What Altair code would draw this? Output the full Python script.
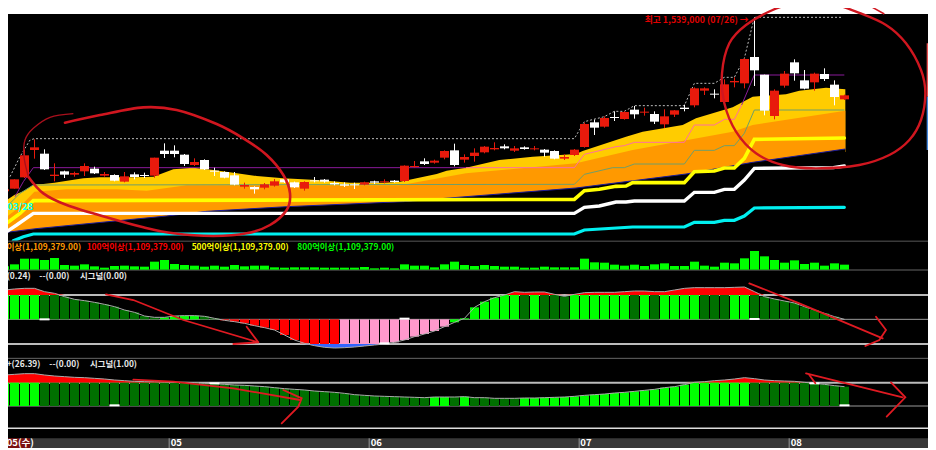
import altair as alt
import pandas as pd

X_DOM = [24, 2784]
Y_DOM = [1344, 24]
OFF = 705  # lower panels readings offset
XS = alt.Scale(domain=X_DOM, nice=False, zero=False)
YS = alt.Scale(domain=Y_DOM, nice=False, zero=False)
FONT = "Noto Sans CJK KR"
RED = "#e81a0c"
BRIGHT = "#00ff00"
DARK = "#007000"

def bx(i):
    return 43.5 + 30 * i

# candles: idx -1 .. 83  (high, top, bottom, low, colour flag)
c_high = [568,538,448,418,448,490,512,515,490,500,516,523,516,517,518,473,430,436,462,475,478,503,514,516,548,559,549,537,536,545,544,531,537,544,547,548,545,542,538,540,496,483,475,479,451,431,463,
          445,438,427,433,438,439,438,447,451,463,447,368,359,349,334,334,318,323,334,328,330,314,262,262,268,238,232,175,52,224,268,213,178,210,218,205,241,284]
c_top = [568,538,466,442,461,524,514,519,498,506,522,525,529,523,525,473,452,452,464,486,480,512,516,526,555,561,553,544,538,547,546,541,539,549,553,553,547,544,544,542,497,498,484,482,453,451,471,
         458,440,444,439,445,442,445,449,453,471,449,372,367,354,351,336,329,335,342,349,331,323,265,265,281,253,243,177,171,224,272,221,187,241,221,222,254,286]
c_bot = [574,566,532,450,508,528,524,524,514,520,527,542,545,531,528,527,462,462,492,495,508,515,533,554,560,568,563,557,547,562,566,544,545,553,557,556,554,548,547,546,543,501,492,488,473,495,479,
         468,457,448,445,452,447,448,458,476,476,465,441,383,380,354,357,343,338,365,373,344,327,316,272,284,306,247,250,211,332,348,257,220,266,247,237,291,298]
c_low = [574,566,534,476,510,544,534,530,528,522,530,544,547,538,534,533,474,472,498,498,510,528,535,556,566,581,568,560,549,564,572,547,548,556,561,567,556,552,550,548,546,503,495,491,478,499,488,
         485,460,451,448,456,449,451,470,478,480,468,443,405,383,363,359,356,347,372,384,351,334,322,285,295,310,262,265,258,346,358,263,242,268,272,243,316,300]
c_red = [1,1,1,1,0,1,0,1,1,0,1,0,1,0,0,1,0,0,0,1,0,0,0,0,1,0,1,1,0,0,1,0,0,0,0,0,1,0,1,0,1,1,0,1,1,0,1,
         1,1,1,0,1,0,1,0,0,1,1,1,0,1,0,1,0,1,0,1,1,0,1,1,0,1,1,1,0,0,1,1,0,0,1,0,0,1]

# volume tops, idx -1 .. 83
vol = [94,88,71,71,75,69,90,92,88,94,98,93,92,94,95,80,75,87,90,92,95,92,95,90,94,92,92,97,98,97,97,97,98,98,98,98,96,100,98,100,88,92,92,97,88,80,90,
       93,90,93,95,95,98,98,95,97,97,97,71,82,83,89,92,89,93,88,85,93,93,80,92,95,83,85,70,48,64,75,83,76,87,83,92,85,89]

# oscillator 1, idx -1 .. 83
osc1 = [165,162,160,160,170,175,185,193,197,202,208,215,225,232,243,247,247,243,242,242,244,250,256,260,265,272,278,285,300,315,325,332,337,339,338,336,333,330,327,322,315,305,297,288,275,262,250,
        217,200,188,180,170,172,171,171,178,184,178,173,172,172,172,170,168,168,170,170,165,160,158,158,158,158,157,156,170,185,192,198,204,215,225,235,245,253]
osc1_col = ["b"]*4 + ["d"]*12 + ["b"]*4 + ["d"]*2 + ["r"]*12 + ["p"]*11 + ["b"]*7 + ["d","b","d","d","d"] + ["b"]*6 + ["d","b","d"] + ["b"]*4 + ["d"]*3 + ["b"]*2 + ["d"]*10
# oscillator 2, idx -1 .. 83
osc2 = [420,418,416,416,420,423,425,427,428,430,432,435,437,439,440,440,441,442,442,443,445,446,448,450,451,453,455,458,461,463,465,468,470,472,475,479,481,483,484,485,486,487,488,486,486,486,485,
        488,488,490,490,490,489,489,488,487,486,484,481,479,477,474,472,469,466,463,458,455,449,442,440,437,435,432,428,431,435,437,438,439,442,445,448,452,455]
osc2_col = ["b"]*4 + ["d"]*39 + ["b","b","d","b"] + ["d"]*5 + ["b"]*23 + ["d"]*10

m1_idx = [3, 39, 74, 37]
m1_val = [253, 251, 252, 325]
m2_idx = [10, 20, 80, 83]
m2_val = [511, 445, 445, 511]

gold_x = [20,43,73,103,130,163,250,300,400,460,520,580,640,700,770,850,950,1050,1150,1200,1310,1340,1398,1498,1598,1728,1748,1878,1928,2048,2088,2198,2258,2358,2398,2478,2536]
gold_y = [600,585,572,553,552,548,535,532,532,530,508,503,510,518,528,535,540,548,548,545,522,512,503,480,470,462,453,410,395,375,355,322,290,283,272,263,268]
orange_x = [20,60,103,200,350,440,560,1200,1398,1728,1898,2198,2258,2536]
orange_y = [650,620,575,568,568,572,556,556,520,490,450,395,375,332]
base_x = [20,108,500,620,860,1210,1398,1728,2058,2258,2536]
base_y = [697,686,648,634,620,605,590,564,522,487,447]
yellow_x = [20,60,100,1723,1753,1798,1848,1878,1898,2053,2083,2143,2173,2203,2233,2263,2533]
yellow_y = [670,640,602,598,572,568,559,558,548,548,515,513,504,504,475,418,414]
white_x = [20,50,100,1723,1753,1798,1848,1878,1903,2053,2083,2143,2173,2203,2233,2263,2500,2533]
white_y = [695,675,640,640,622,618,606,606,603,603,577,577,568,568,540,505,503,498]
cyan_x = [40,70,100,1723,1753,1898,2053,2083,2143,2173,2203,2233,2263,2533]
cyan_y = [722,710,702,702,690,681,681,667,667,661,661,648,624,622]
green_x = [20,60,100,1723,1753,1838,1873,1903,2053,2083,2143,2173,2203,2233,2263,2533]
green_y = [620,580,555,553,523,503,503,492,492,451,451,437,437,400,330,330]
purple1_x = [45,70,100,1398]
purple1_y = [590,545,503,503]
pink_x = [1398,1723,1753,1848,1873,1903,2053,2083,2143,2173,2203,2225]
pink_y = [503,503,463,440,437,427,427,375,375,358,358,315]
purple2_x = [2225,2263,2533]
purple2_y = [315,225,225]
dot_x = [30,60,90,103,1723,1753,1813,1843,1873,1903,2053,2083,2143,2173,2203,2233,2263,2528]
dot_y = [530,470,420,416,416,365,350,334,334,317,317,250,250,232,232,175,52,52]

# hand-drawn red strokes
stroke_a_x = [195,300,430,530,650,730,800,850,870,860,810,740,640,520,430,330,200,130,85]
stroke_a_y = [368,345,322,330,372,415,465,525,580,630,675,700,708,700,682,655,615,580,530]
stroke_a2_x = [85,72,75,100,150,220]
stroke_a2_y = [530,470,420,385,352,341]
stroke_b_x = [2458,2488,2568,2658,2718,2763,2776,2763,2728,2668,2578,2448,2348,2268,2208,2173,2166,2188,2238,2318,2408]
stroke_b_y = [18,8,35,75,130,210,280,360,420,465,495,505,495,460,395,310,220,130,75,30,0]
stroke_c_x = [2578,2653]
stroke_c_y = [0,42]
arrows = {
    "a1": ([318,400,550,775,700], [883,900,960,1027,1032]),
    "a2": ([740,775], [980,1027]),
    "b1": ([400,520,700,900], [1139,1145,1165,1200]),
    "b2": ([850,905,895,845], [1170,1195,1220,1270]),
    "c1": ([2248,2398,2648], [850,910,1015]),
    "c2": ([2628,2658,2638,2596], [950,990,1020,1038]),
    "d1": ([2418,2708], [1120,1192]),
    "d2": ([2673,2716,2660], [1147,1192,1250]),
    "d3": ([2428,2446], [1125,1150]),
}

levels_y = [724, 810, 885, 958, 1032, 1075, 1148, 1218, 1285]
levels_c = ["#3a3a3a", "#666666", "#bbbbbb", "#999999", "#bbbbbb", "#666666", "#bbbbbb", "#999999", "#dddddd"]
levels_w = [1.5, 1, 2, 1, 2, 1, 2, 1, 1.5]

txt = [
    ("최고 1,539,000 (07/26) →", 1934, 60, "#e00000", 8.8),
    ("03/28", 22, 620, "#00ffff", 9.5),
    ("이상(1,109,379.00)", 20, 742, "#ff9900", 8.4),
    ("100억이상(1,109,379.00)", 260, 742, "#ff0000", 8.4),
    ("500억이상(1,109,379.00)", 575, 742, "#ffff00", 8.4),
    ("800억이상(1,109,379.00)", 892, 742, "#00ff00", 8.4),
    ("(0.24)", 20, 828, "#e8e8e8", 8.4),
    ("--(0.00)", 118, 828, "#e8e8e8", 8.4),
    ("시그널(0.00)", 240, 828, "#e8e8e8", 8.4),
    ("+(26.39)", 20, 1093, "#e8e8e8", 8.4),
    ("--(0.00)", 148, 1093, "#e8e8e8", 8.4),
    ("시그널(1.00)", 270, 1093, "#e8e8e8", 8.4),
    ("05(수)", 20, 1330, "#ffffff", 9.5),
    ("05", 512, 1330, "#ffffff", 9.5),
    ("06", 1112, 1330, "#ffffff", 9.5),
    ("07", 1741, 1330, "#ffffff", 9.5),
    ("08", 2372, 1330, "#ffffff", 9.5),
]
tick_x = [508, 1108, 1738, 2368]

X = alt.X("x:Q", scale=XS, axis=None)
Y = alt.Y("y:Q", scale=YS, axis=None)

def pts(xs, ys):
    return pd.DataFrame({"x": xs, "y": ys})

def line(xs, ys, color, w, **kw):
    return alt.Chart(pts(xs, ys)).mark_line(color=color, strokeWidth=w, clip=True, **kw).encode(x=X, y=Y)

def area_down(xs, ys, color, bottom=724):
    return alt.Chart(pts(xs, ys)).mark_area(color=color, opacity=1, clip=True).encode(x=X, y=Y, y2=alt.Y2(datum=bottom))

def box(x0, x1, y0, y1, color):
    df = pd.DataFrame({"x": [x0], "x2": [x1], "y": [y0], "y2": [y1]})
    return alt.Chart(df).mark_rect(color=color, clip=True).encode(x=X, x2="x2:Q", y=Y, y2="y2:Q")

layers = []
layers.append(box(24, 2784, 42, 1344, "#000000"))
layers.append(box(24, 2784, 1315, 1344, "#383838"))
layers.append(box(24, 90, 1315, 1344, "#7a1010"))
for tx in tick_x:
    layers.append(box(tx - 2, tx + 1, 1315, 1344, "#999999"))
layers.append(box(2780, 2784, 130, 290, "#e85050"))
layers.append(box(2780, 2784, 290, 450, "#4488dd"))

# main cloud
layers.append(area_down(gold_x, gold_y, "#ffcc00"))
layers.append(area_down(orange_x, orange_y, "#ff9900"))
layers.append(area_down(base_x, base_y, "#000000"))
layers.append(box(2510, 2560, 456, 724, "#000000"))
layers.append(line(base_x, base_y, "#1a1a99", 1))
layers.append(line(cyan_x, cyan_y, "#00f0f0", 3.2, strokeCap="round"))
layers.append(line(white_x, white_y, "#ffffff", 3.4, strokeCap="round"))
layers.append(line(yellow_x, yellow_y, "#ffff00", 3.6, strokeCap="round"))
layers.append(line(green_x, green_y, "#6f9e6a", 1))
layers.append(line(purple1_x, purple1_y, "#8a1a9a", 1))
layers.append(line(pink_x, pink_y, "#ff6fa0", 1))
layers.append(line(purple2_x, purple2_y, "#8a1a9a", 1))
layers.append(line(dot_x, dot_y, "#bbbbbb", 1, strokeDash=[2, 2]))

# candles
cdf = pd.DataFrame({
    "x": [bx(i) for i in range(-1, 84)],
    "high": c_high, "top": c_top, "bot": c_bot, "low": c_low,
    "c": [RED if r else "#ffffff" for r in c_red],
})
cdf["x0"] = cdf["x"] - 13.5
cdf["x1"] = cdf["x"] + 13.5
cc = alt.Color("c:N", scale=None)
layers.append(alt.Chart(cdf).mark_rule(strokeWidth=1, clip=True).encode(
    x=X, y=alt.Y("high:Q", scale=YS, axis=None), y2="low:Q", color=cc))
layers.append(alt.Chart(cdf).mark_rect(clip=True).encode(
    x=alt.X("x0:Q", scale=XS, axis=None), x2="x1:Q", y=alt.Y("top:Q", scale=YS, axis=None), y2="bot:Q", color=cc))

# level rules
ldf = pd.DataFrame({"y": levels_y, "c": levels_c, "w": levels_w})
layers.append(alt.Chart(ldf).mark_rule().encode(
    y=Y, color=cc, strokeWidth=alt.StrokeWidth("w:Q", scale=None)))

# volume
vdf = pd.DataFrame({"x": [bx(i) for i in range(-1, 84)], "y": [v + OFF for v in vol]})
vdf["x0"] = vdf["x"] - 13.5
vdf["x1"] = vdf["x"] + 13.5
vdf["y2"] = 104 + OFF
layers.append(alt.Chart(vdf).mark_rect(color=BRIGHT, clip=True).encode(
    x=alt.X("x0:Q", scale=XS, axis=None), x2="x1:Q", y=Y, y2="y2:Q"))

PAL = {"b": BRIGHT, "d": DARK, "r": "#ff0000", "p": "#ff99cc"}

def osc(values, cols, hi, base, lo, m_idx, m_val):
    out = []
    rows = []
    for i, (v, c) in enumerate(zip(values, cols)):
        z = v + OFF
        rows.append({"x": bx(i - 1), "z": z, "c": PAL[c],
                     "bar": min(max(z, hi + OFF), lo + OFF),
                     "red": min(z, hi + OFF), "blue": max(z, lo + OFF)})
    df = pd.DataFrame(rows)
    df["x0"] = df["x"] - 13.5
    df["x1"] = df["x"] + 13.5
    df["b"] = base + OFF
    df["hi"] = hi + OFF
    df["lo"] = lo + OFF
    out.append(alt.Chart(df).mark_area(color="#ff0000", clip=True).encode(
        x=X, y=alt.Y("red:Q", scale=YS, axis=None), y2="hi:Q"))
    out.append(alt.Chart(df).mark_area(color="#3366ff", clip=True).encode(
        x=X, y=alt.Y("blue:Q", scale=YS, axis=None), y2="lo:Q"))
    out.append(alt.Chart(df).mark_rect(clip=True).encode(
        x=alt.X("x0:Q", scale=XS, axis=None), x2="x1:Q",
        y=alt.Y("bar:Q", scale=YS, axis=None), y2="b:Q", color=alt.Color("c:N", scale=None)))
    out.append(alt.Chart(df).mark_line(color="#aaaaaa", strokeWidth=1, clip=True).encode(
        x=X, y=alt.Y("z:Q", scale=YS, axis=None)))
    mdf = pd.DataFrame({"x0": [bx(i) - 15 for i in m_idx], "x1": [bx(i) + 15 for i in m_idx],
                        "y": [v + OFF - 3 for v in m_val], "y2": [v + OFF + 3 for v in m_val]})
    out.append(alt.Chart(mdf).mark_rect(color="#ffffff", clip=True).encode(
        x=alt.X("x0:Q", scale=XS, axis=None), x2="x1:Q", y=Y, y2="y2:Q"))
    return out

layers += osc(osc1, osc1_col, 180, 253, 327, m1_idx, m1_val)
layers += osc(osc2, osc2_col, 443, 513, 580, m2_idx, m2_val)

# texts
tdf = pd.DataFrame(txt, columns=["t", "x", "y", "c", "s"])
layers.append(alt.Chart(tdf).mark_text(align="left", baseline="middle", font=FONT, fontWeight="bold").encode(
    x=X, y=Y, text="t:N", color=cc, size=alt.Size("s:Q", scale=None)))

# red hand strokes
SC = "#d0161f"
layers.append(line(stroke_a_x, stroke_a_y, SC, 2.6, interpolate="cardinal", strokeCap="round", order=False))
layers.append(line(stroke_a2_x, stroke_a2_y, "#a8101c", 1.3, interpolate="cardinal", order=False))
layers.append(line(stroke_b_x, stroke_b_y, SC, 2.4, interpolate="cardinal", strokeCap="round", order=False))
layers.append(line(stroke_c_x, stroke_c_y, SC, 1.5, order=False))
for k, (ax, ay) in arrows.items():
    layers.append(line(ax, ay, "#e01a22", 1.8, order=False, strokeCap="round"))

chart = alt.layer(*layers).properties(width=920, height=440, padding=0, autosize=alt.AutoSizeParams(type="none"), background="#ffffff").configure_view(stroke=None)
chart.save("out.html", embed_options={"renderer": "svg", "actions": False})
